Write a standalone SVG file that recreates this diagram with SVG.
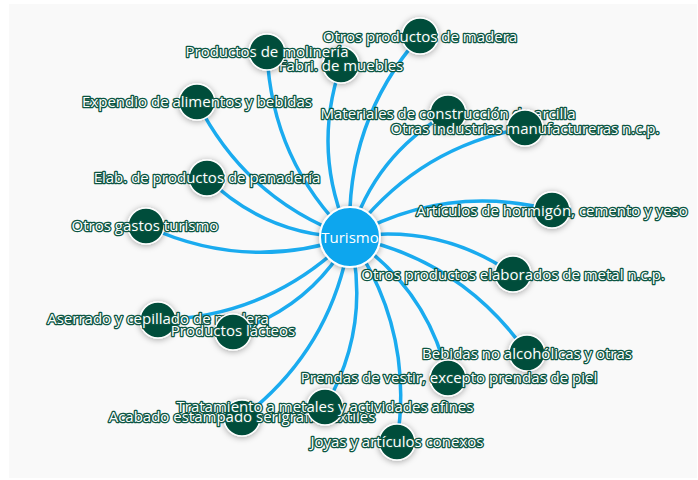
<svg xmlns="http://www.w3.org/2000/svg" width="698" height="480" viewBox="0 0 698 480">
<defs>
<filter id="sh" x="-50%" y="-50%" width="200%" height="200%">
<feDropShadow dx="0" dy="1" stdDeviation="3" flood-color="#000" flood-opacity="0.35"/>
</filter>
<style>
.bg{fill:#f9f9f9}
.e{fill:none;stroke:#1aabef;stroke-width:3.5;stroke-linecap:round}
.n{fill:#014d3b;stroke:#fff;stroke-width:1.5;filter:url(#sh)}
.hub{fill:#0aa6ee;stroke:#fff;stroke-width:2;filter:url(#sh)}
.l{font-family:"Open Sans","Liberation Sans",sans-serif;font-size:15px;fill:#fff;stroke:#0b5542;stroke-width:2.6;stroke-linejoin:round;paint-order:stroke;text-anchor:middle;dominant-baseline:central}
.hl{font-family:"Open Sans","Liberation Sans",sans-serif;font-size:15px;fill:#fff;text-anchor:middle;dominant-baseline:central}
</style>
</defs>
<rect x="0" y="0" width="698" height="480" fill="#fff"/>
<rect class="bg" x="9" y="4" width="688" height="474"/>
<g id="edges">
<path class="e" d="M350,237 Q311.1,152.8 341,65"/>
<path class="e" d="M350,237 Q271.5,161.1 267,52"/>
<path class="e" d="M350,237 Q344.8,122.5 420,36"/>
<path class="e" d="M350,237 Q246.5,200.1 197,102"/>
<path class="e" d="M350,237 Q374.2,155.4 448,113"/>
<path class="e" d="M350,237 Q415.7,147.5 525,128"/>
<path class="e" d="M350,237 Q266.7,236.1 207,178"/>
<path class="e" d="M350,237 Q245.8,272.3 146,226"/>
<path class="e" d="M350,237 Q445.6,183.1 552,210"/>
<path class="e" d="M350,237 Q438.9,222.9 513,274"/>
<path class="e" d="M350,237 Q270.6,316.9 158,320"/>
<path class="e" d="M350,237 Q310.5,307.9 233,332"/>
<path class="e" d="M350,237 Q461.7,259.6 527,353"/>
<path class="e" d="M350,237 Q427.2,287.9 448,378"/>
<path class="e" d="M350,237 Q371.5,327 325,407"/>
<path class="e" d="M350,237 Q332.2,349.1 242,418"/>
<path class="e" d="M350,237 Q414.5,330.1 397,442"/>
</g>
<g id="n-fabri"><circle class="n" cx="341" cy="65" r="18"/><text class="l" x="341" y="65">Fabri. de muebles</text></g>
<g id="n-molineria"><circle class="n" cx="267" cy="52" r="18"/><text class="l" x="267" y="51">Productos de molinería</text></g>
<g id="n-madera"><circle class="n" cx="420" cy="36" r="18"/><text class="l" x="420" y="36">Otros productos de madera</text></g>
<g id="n-expendio"><circle class="n" cx="197" cy="102" r="18"/><text class="l" x="197" y="101">Expendio de alimentos y bebidas</text></g>
<g id="n-materiales"><circle class="n" cx="448" cy="113" r="18"/><text class="l" x="448" y="113">Materiales de construcción de arcilla</text></g>
<g id="n-otras"><circle class="n" cx="525" cy="128" r="18"/><text class="l" x="525" y="128">Otras industrias manufactureras n.c.p.</text></g>
<g id="n-panaderia"><circle class="n" cx="207" cy="178" r="18"/><text class="l" x="207" y="177">Elab. de productos de panadería</text></g>
<g id="n-gastos"><circle class="n" cx="146" cy="226" r="18"/><text class="l" x="145" y="225">Otros gastos turismo</text></g>
<g id="n-hormigon"><circle class="n" cx="552" cy="210" r="18"/><text class="l" x="552" y="210">Artículos de hormigón, cemento y yeso</text></g>
<g id="n-metal"><circle class="n" cx="513" cy="274" r="18"/><text class="l" x="513" y="274">Otros productos elaborados de metal n.c.p.</text></g>
<g id="n-aserrado"><circle class="n" cx="158" cy="320" r="18"/><text class="l" x="158" y="318">Aserrado y cepillado de madera</text></g>
<g id="n-lacteos"><circle class="n" cx="233" cy="332" r="18"/><text class="l" x="233" y="330">Productos lácteos</text></g>
<g id="n-bebidas"><circle class="n" cx="527" cy="353" r="18"/><text class="l" x="527" y="353">Bebidas no alcohólicas y otras</text></g>
<g id="n-prendas"><circle class="n" cx="448" cy="378" r="18"/><text class="l" x="449" y="377">Prendas de vestir, excepto prendas de piel</text></g>
<g id="n-acabado"><circle class="n" cx="242" cy="418" r="18"/><text class="l" x="242" y="416">Acabado estampado serigrafía textiles</text></g>
<g id="n-tratamiento"><circle class="n" cx="325" cy="407" r="18"/><text class="l" x="325" y="406">Tratamiento a metales y actividades afines</text></g>
<g id="n-joyas"><circle class="n" cx="397" cy="442" r="18"/><text class="l" x="397" y="441">Joyas y artículos conexos</text></g>
<g id="n-turismo"><circle class="hub" cx="350" cy="237" r="30"/><text class="hl" x="350" y="237">Turismo</text></g>
</svg>
